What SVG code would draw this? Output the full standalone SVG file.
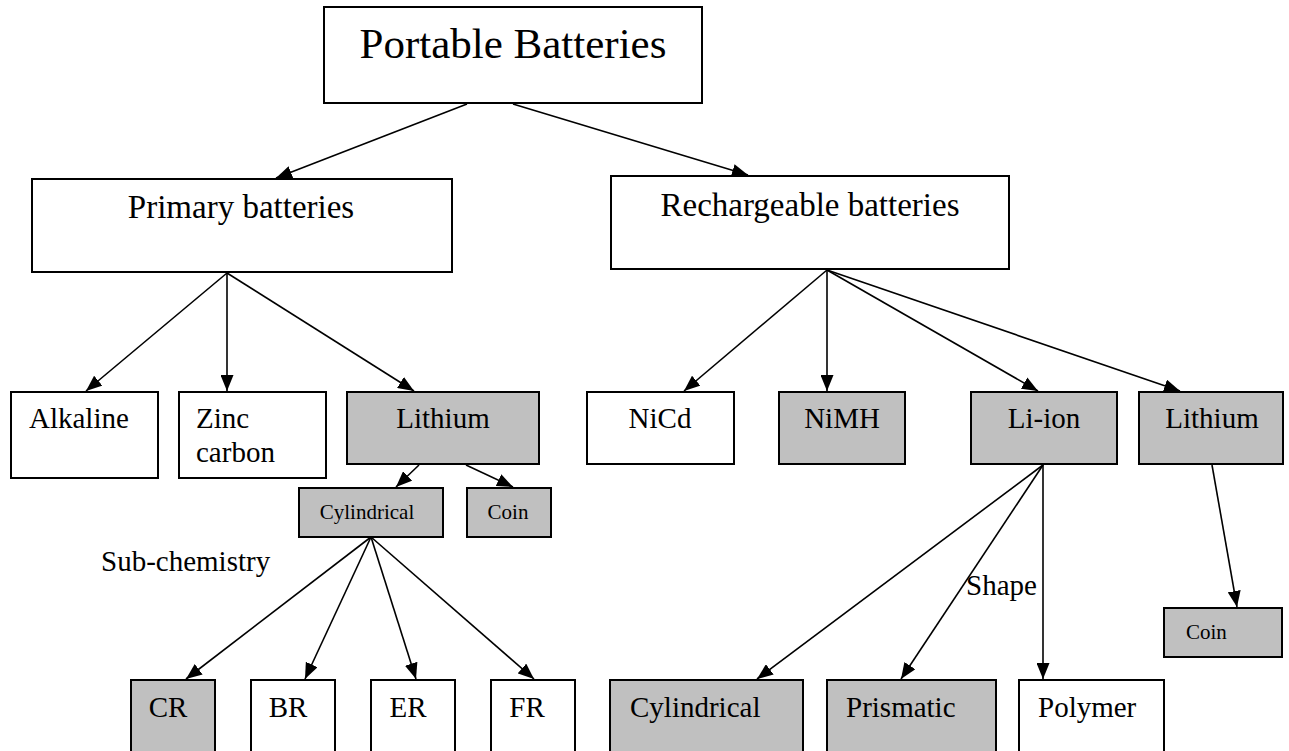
<svg xmlns="http://www.w3.org/2000/svg" width="1289" height="751" viewBox="0 0 1289 751">
<style>
.box{fill:#fff;stroke:#000;stroke-width:2}
.g{fill:#c0c0c0;stroke:#000;stroke-width:2}
text{font-family:"Liberation Serif","Times New Roman",serif;fill:#000}
.t29{font-size:29px}
.t21{font-size:21px}
.t33{font-size:33px}
.c{text-anchor:middle}
.ln{stroke:#000;stroke-width:1.6;fill:none;marker-end:url(#ah)}
</style>
<defs>
<marker id="ah" markerUnits="userSpaceOnUse" markerWidth="17" markerHeight="13" refX="16" refY="6.5" orient="auto">
<path d="M0,0 L16,6.5 L0,13 z" fill="#000"/>
</marker>
</defs>
<rect width="1289" height="751" fill="#fff"/>
<g id="connectors">
<line class="ln" x1="467" y1="104" x2="276" y2="178"/>
<line class="ln" x1="513" y1="104" x2="748" y2="175"/>
<line class="ln" x1="227" y1="273" x2="86" y2="391"/>
<line class="ln" x1="227" y1="273" x2="227" y2="391"/>
<line class="ln" x1="227" y1="273" x2="414" y2="391"/>
<line class="ln" x1="827" y1="270" x2="684" y2="391"/>
<line class="ln" x1="827" y1="270" x2="827" y2="391"/>
<line class="ln" x1="827" y1="270" x2="1038" y2="391"/>
<line class="ln" x1="827" y1="270" x2="1180" y2="391"/>
<line class="ln" x1="419" y1="465" x2="396" y2="487"/>
<line class="ln" x1="466" y1="465" x2="513" y2="487"/>
<line class="ln" x1="371" y1="537" x2="186" y2="679"/>
<line class="ln" x1="371" y1="537" x2="305" y2="679"/>
<line class="ln" x1="371" y1="537" x2="416" y2="679"/>
<line class="ln" x1="371" y1="537" x2="534" y2="679"/>
<line class="ln" x1="1043" y1="465" x2="757" y2="679"/>
<line class="ln" x1="1043" y1="465" x2="901" y2="679"/>
<line class="ln" x1="1043" y1="465" x2="1043" y2="679"/>
<line class="ln" x1="1212" y1="465" x2="1237" y2="607"/>
</g>
<g id="portable">
<rect class="box" x="324" y="7" width="378" height="96"/>
<text class="c" x="513" y="58" font-size="43">Portable Batteries</text>
</g>
<g id="primary">
<rect class="box" x="32" y="179" width="420" height="93"/>
<text class="c t33" x="241" y="218">Primary batteries</text>
</g>
<g id="rechargeable">
<rect class="box" x="611" y="176" width="398" height="93"/>
<text class="c t33" x="810" y="216">Rechargeable batteries</text>
</g>
<g id="alkaline">
<rect class="box" x="11" y="392" width="147" height="86"/>
<text class="t29" x="29" y="428">Alkaline</text>
</g>
<g id="zinc">
<rect class="box" x="179" y="392" width="147" height="86"/>
<text class="t29" x="196" y="428">Zinc</text>
<text class="t29" x="196" y="462">carbon</text>
</g>
<g id="lithium1">
<rect class="g" x="347" y="392" width="192" height="72"/>
<text class="c t29" x="443" y="428">Lithium</text>
</g>
<g id="cyl1">
<rect class="g" x="299" y="488" width="144" height="49"/>
<text class="c t21" x="367" y="519">Cylindrical</text>
</g>
<g id="coin1">
<rect class="g" x="467" y="488" width="84" height="49"/>
<text class="c t21" x="508" y="519">Coin</text>
</g>
<text class="t29" x="101" y="571">Sub-chemistry</text>
<g id="cr">
<rect class="g" x="131" y="680" width="84" height="80"/>
<text class="c t29" x="168" y="717">CR</text>
</g>
<g id="br">
<rect class="box" x="251" y="680" width="84" height="80"/>
<text class="c t29" x="288" y="717">BR</text>
</g>
<g id="er">
<rect class="box" x="371" y="680" width="84" height="80"/>
<text class="c t29" x="408" y="717">ER</text>
</g>
<g id="fr">
<rect class="box" x="491" y="680" width="84" height="80"/>
<text class="c t29" x="527" y="717">FR</text>
</g>
<g id="nicd">
<rect class="box" x="587" y="392" width="147" height="72"/>
<text class="c t29" x="660" y="428">NiCd</text>
</g>
<g id="nimh">
<rect class="g" x="779" y="392" width="126" height="72"/>
<text class="c t29" x="842" y="428">NiMH</text>
</g>
<g id="liion">
<rect class="g" x="971" y="392" width="146" height="72"/>
<text class="c t29" x="1044" y="428">Li-ion</text>
</g>
<g id="lithium2">
<rect class="g" x="1139" y="392" width="144" height="72"/>
<text class="c t29" x="1212" y="428">Lithium</text>
</g>
<g id="coin2">
<rect class="g" x="1164" y="608" width="118" height="49"/>
<text class="t21" x="1186" y="639">Coin</text>
</g>
<text class="t29" x="966" y="595">Shape</text>
<g id="cyl2">
<rect class="g" x="610" y="680" width="193" height="80"/>
<text class="t29" x="630" y="717">Cylindrical</text>
</g>
<g id="prismatic">
<rect class="g" x="827" y="680" width="169" height="80"/>
<text class="t29" x="846" y="717">Prismatic</text>
</g>
<g id="polymer">
<rect class="box" x="1019" y="680" width="145" height="80"/>
<text class="t29" x="1038" y="717">Polymer</text>
</g>
</svg>
